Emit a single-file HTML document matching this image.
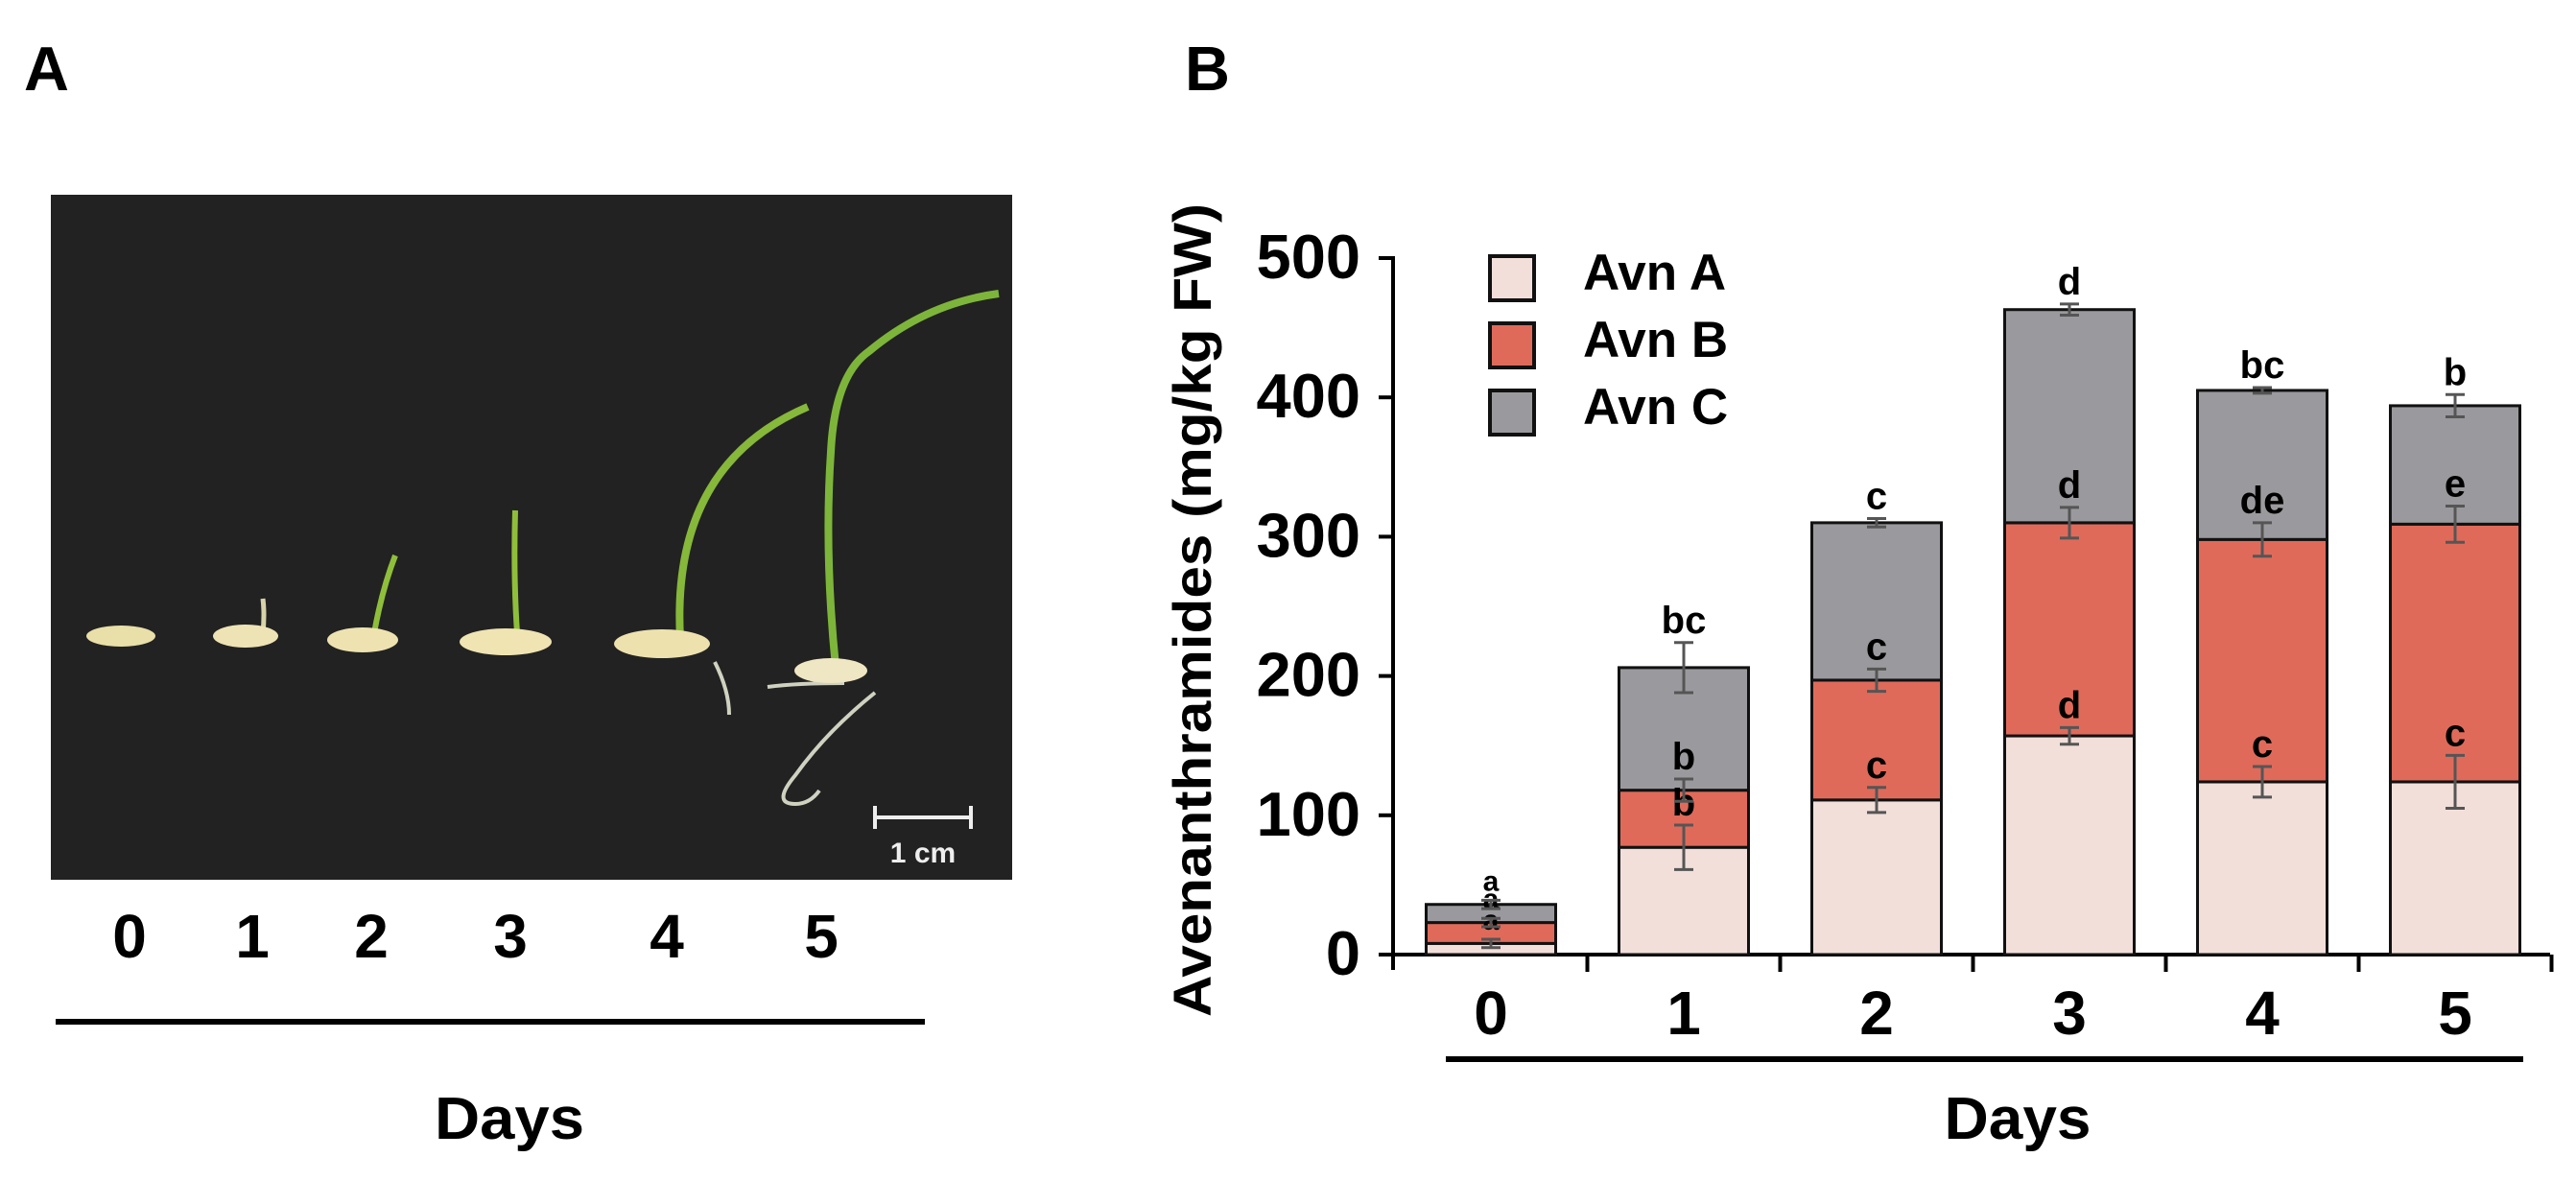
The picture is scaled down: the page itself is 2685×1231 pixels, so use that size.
<!DOCTYPE html>
<html><head><meta charset="utf-8"><style>
html,body{margin:0;padding:0;background:#fff;}
svg{display:block;font-family:"Liberation Sans",Arial,sans-serif;font-weight:bold;}
</style></head><body>
<svg id="fig" width="2685" height="1231" viewBox="0 0 2685 1231" xmlns="http://www.w3.org/2000/svg">
<text x="25" y="94" font-size="65">A</text>
<text x="1235" y="94" font-size="65">B</text>
<g>
<rect x="53" y="203" width="1002" height="714" fill="#222"/>
<path d="M274 660 q2 -20 0 -36" stroke="#d8d3a8" stroke-width="5" fill="none"/>
<path d="M390 660 q8 -45 22 -81" stroke="#8fbf3a" stroke-width="6" fill="none"/>
<path d="M539 660 q-4 -60 -2 -128" stroke="#8fbf3a" stroke-width="6" fill="none"/>
<path d="M709 665 q-10 -180 133 -241" stroke="#86b83a" stroke-width="8" fill="none"/>
<path d="M871 695 q-12 -120 -5 -224 q4 -80 40 -105 q60 -50 135 -60" stroke="#7db53a" stroke-width="8" fill="none"/>
<path d="M912 722 q-50 40 -83 86 q-25 30 0 30 q15 0 25 -14 M880 712 q-50 0 -80 4 M745 690 q15 30 15 55" stroke="#cfd2c0" stroke-width="4" fill="none"/>
<ellipse cx="126" cy="663" rx="36" ry="11" fill="#e9dfa8"/>
<ellipse cx="256" cy="663" rx="34" ry="12" fill="#eee3b4"/>
<ellipse cx="378" cy="667" rx="37" ry="13" fill="#eee3b0"/>
<ellipse cx="527" cy="669" rx="48" ry="14" fill="#efe4b2"/>
<ellipse cx="690" cy="671" rx="50" ry="15" fill="#ede1ae"/>
<ellipse cx="866" cy="699" rx="38" ry="13" fill="#efe6c3"/>
<path d="M912 852 h100 M912 840 v24 M1012 840 v24" stroke="#eee" stroke-width="4"/>
<text x="962" y="899" font-size="30" fill="#eee" text-anchor="middle">1 cm</text>
</g>
<g font-size="64" text-anchor="middle">
<text x="135" y="998">0</text><text x="263" y="998">1</text><text x="387" y="998">2</text><text x="532" y="998">3</text><text x="695" y="998">4</text><text x="856" y="998">5</text>
</g>
<line x1="58" y1="1065" x2="964" y2="1065" stroke="#000" stroke-width="6"/>
<text x="531" y="1187" font-size="62" text-anchor="middle" textLength="156" lengthAdjust="spacingAndGlyphs">Days</text>
<g id="chart"></g>
</svg>
<script>
const categories = ["0","1","2","3","4","5"];
const avnA = [8, 77, 111, 157, 124, 124];
const avnB = [15, 41, 86, 153, 174, 185];
const avnC = [13, 88, 113, 153, 107, 85];
const errA = [3, 16, 9, 6, 11, 19];
const errB = [3, 8, 8, 11, 12, 13];
const errC = [3, 18, 3, 4, 2, 8];
const lettersA = ["a","b","c","d","c","c"];
const lettersB = ["a","b","c","d","de","e"];
const lettersC = ["a","bc","c","d","bc","b"];
const yTicks = [0, 100, 200, 300, 400, 500];
const seriesNames = ["Avn A","Avn B","Avn C"];

const NS = "http://www.w3.org/2000/svg";
const g = document.getElementById("chart");
const x0 = 1452, y0 = 995, pxPer = 1.452, step = 201, firstC = 1554, bw = 135;
const Y = v => y0 - v * pxPer;
const X = i => firstC + i * step;
const colors = ["#f2dfda", "#e06a5a", "#9a9a9e"];
function mk(tag, attrs, parent) {
  const e = document.createElementNS(NS, tag);
  for (const k in attrs) e.setAttribute(k, attrs[k]);
  (parent || g).appendChild(e);
  return e;
}
const ya = mk("line", {x1: x0, y1: Y(0) + 16, x2: x0, y2: Y(500) - 2, stroke: "#000", "stroke-width": 4});


const xa = mk("line", {x1: x0, y1: y0, x2: 2658, y2: y0, stroke: "#000", "stroke-width": 4});


yTicks.forEach(t => {
  const tk = mk("line", {x1: x0 - 15, y1: Y(t), x2: x0, y2: Y(t), stroke: "#000", "stroke-width": 4});
  
  
  const tl = mk("text", {x: 1418, y: Y(t) + 21, "font-size": 65, "text-anchor": "end"});
  tl.textContent = t;
  
  
});
for (let i = 0; i < categories.length; i++) {
  const tk = mk("line", {x1: X(i) + step / 2, y1: y0, x2: X(i) + step / 2, y2: y0 + 18, stroke: "#000", "stroke-width": 4});
  
  
}
const yt = mk("text", {x: 0, y: 0, "font-size": 56, "text-anchor": "middle", textLength: 848, lengthAdjust: "spacingAndGlyphs", transform: "translate(1262 636) rotate(-90)"});
yt.textContent = "Avenanthramides (mg/kg FW)";


categories.forEach((c, i) => {
  const vals = [avnA[i], avnB[i], avnC[i]];
  const errs = [errA[i], errB[i], errC[i]];
  const lets = [lettersA[i], lettersB[i], lettersC[i]];
  let base = 0;
  vals.forEach((v, s) => {
    const r = mk("rect", {x: X(i) - bw / 2, y: Y(base + v), width: bw, height: v * pxPer, fill: colors[s], stroke: "#111", "stroke-width": 3});
    
    
    base += v;
  });
  base = 0;
  vals.forEach((v, s) => {
    base += v;
    const e = errs[s];
    const eb = mk("path", {d: `M${X(i)} ${Y(base - e)} V${Y(base + e)} M${X(i) - 10} ${Y(base - e)} h20 M${X(i) - 10} ${Y(base + e)} h20`, stroke: "#555", "stroke-width": 3, fill: "none"});
    
    
    const lt = mk("text", {x: X(i), y: Y(base + e) - 10, "font-size": i === 0 ? 30 : 40, "text-anchor": "middle"});
    lt.textContent = lets[s];
    
    
  });
  const xl = mk("text", {x: X(i), y: 1078, "font-size": 64, "text-anchor": "middle"});
  xl.textContent = c;
  
  
});
const dl = mk("line", {x1: 1507, y1: 1104, x2: 2630, y2: 1104, stroke: "#000", "stroke-width": 6});


const dt = mk("text", {x: 2103, y: 1187, "font-size": 62, "text-anchor": "middle", textLength: 153, lengthAdjust: "spacingAndGlyphs"});
dt.textContent = "Days";


seriesNames.forEach((n, s) => {
  const yy = 267 + s * 70;
  const b = mk("rect", {x: 1553, y: yy, width: 46, height: 46, fill: colors[s], stroke: "#111", "stroke-width": 4});
  
  
  const t = mk("text", {x: 1650, y: yy + 35, "font-size": 53});
  t.textContent = n;
  
  
});
</script>
</body></html>
